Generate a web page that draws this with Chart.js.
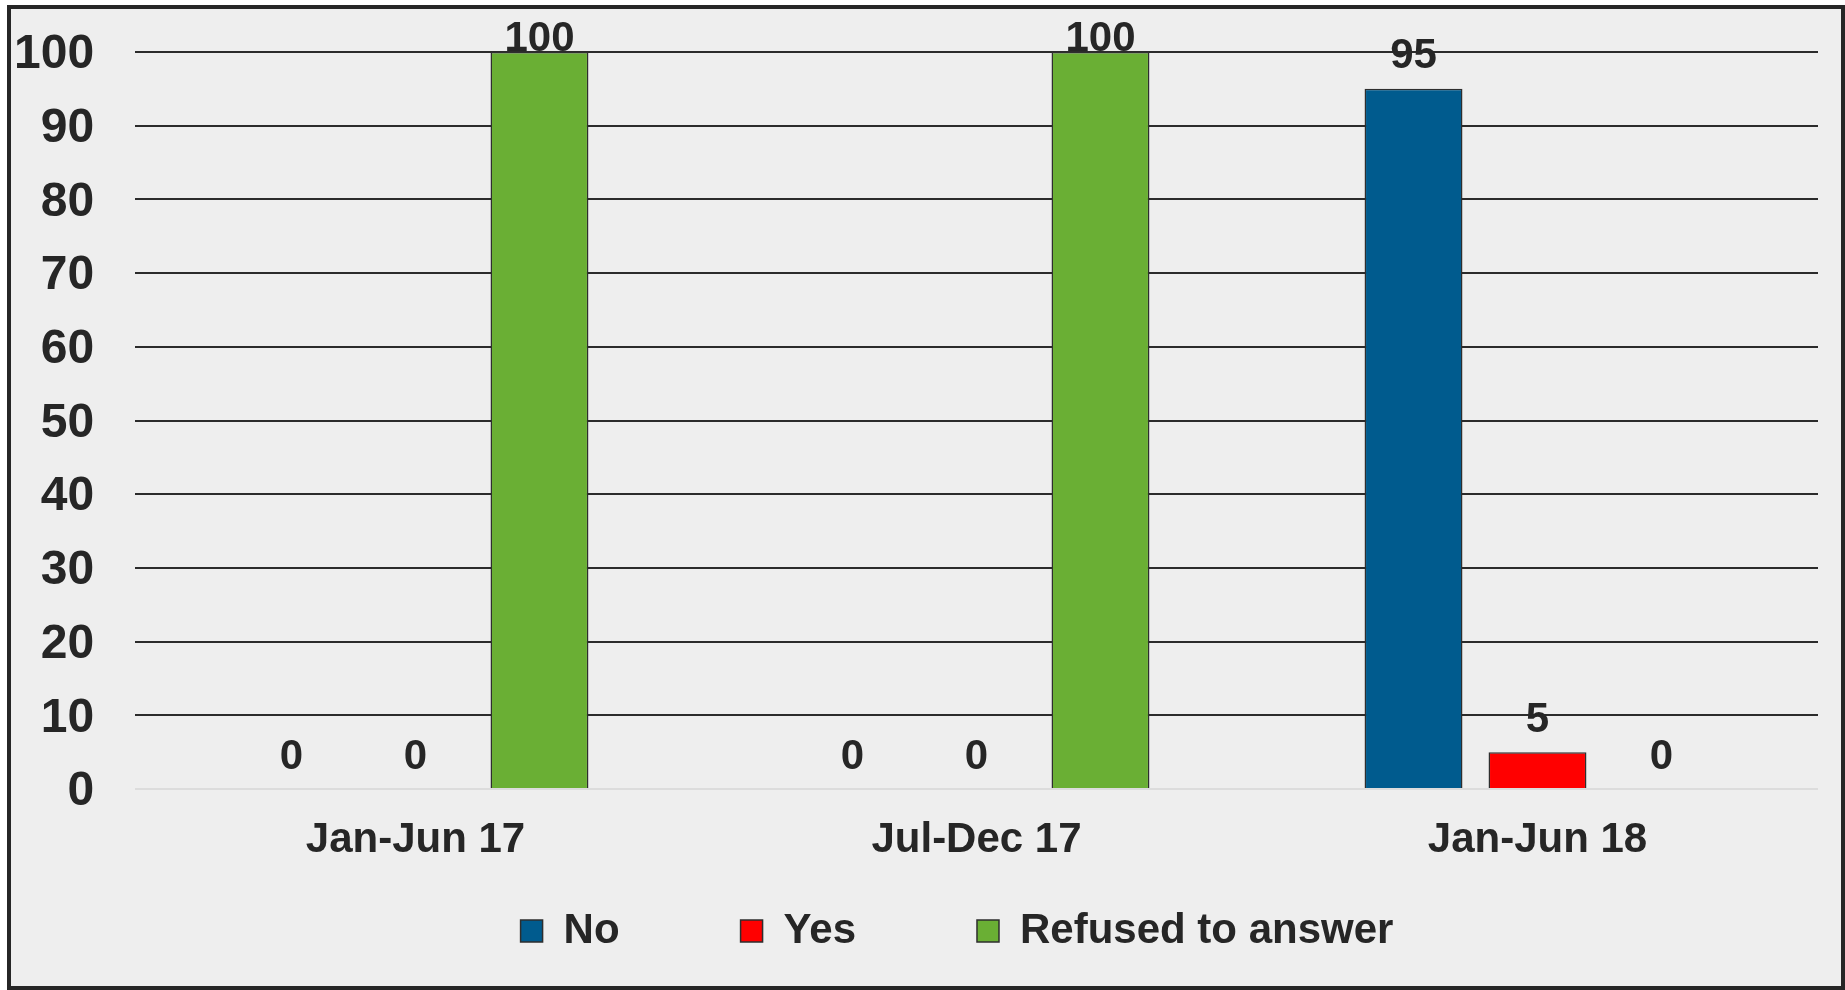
<!DOCTYPE html>
<html>
<head>
<meta charset="utf-8">
<script src="https://cdn.jsdelivr.net/npm/chart.js@4.4.1/dist/chart.umd.min.js"></script>
<style>
    html, body { margin: 0; padding: 0; background: #ffffff; }
    #frame {
        position: absolute;
        left: 7px;
        top: 5px;
        width: 1838px;
        height: 985px;
        box-sizing: border-box;
        border: 4px solid #262626;
        background: #eeeeee;
    }
    #wrap { position: relative; width: 1830px; height: 977px; }
</style>
</head>
<body>
<div id="frame"><div id="wrap"><canvas id="surveyChart"></canvas></div></div>
<script>
const periods = ['Jan-Jun 17', 'Jul-Dec 17', 'Jan-Jun 18'];
const noValues = [0, 0, 95];
const yesValues = [0, 0, 5];
const refusedValues = [100, 100, 0];
const yTicks = [0, 10, 20, 30, 40, 50, 60, 70, 80, 90, 100];

const textColor = '#262626';
const fontFamily = "'Liberation Sans', Arial, sans-serif";

// value labels above each bar, pulled down when they would leave the plot
const barLabels = {
    id: 'barLabels',
    afterDatasetsDraw(chart) {
        const ctx = chart.ctx;
        const top = chart.chartArea.top;
        ctx.save();
        ctx.font = 'bold 42px ' + fontFamily;
        ctx.fillStyle = textColor;
        ctx.textAlign = 'center';
        ctx.textBaseline = 'middle';
        chart.data.datasets.forEach((ds, i) => {
            chart.getDatasetMeta(i).data.forEach((bar, j) => {
                const y = Math.max(bar.y - 32, top - 13);
                ctx.fillText(String(ds.data[j]), bar.x, y);
            });
        });
        ctx.restore();
    }
};

const ctx = document.getElementById('surveyChart').getContext('2d');
new Chart(ctx, {
    type: 'bar',
    data: {
        labels: periods,
        datasets: [
            {
                label: 'No',
                data: noValues,
                backgroundColor: '#005b8e',
                borderColor: '#2e2e2e',
                borderWidth: 1.5
            },
            {
                label: 'Yes',
                data: yesValues,
                backgroundColor: '#ff0000',
                borderColor: '#2e2e2e',
                borderWidth: 1.5
            },
            {
                label: 'Refused to answer',
                data: refusedValues,
                backgroundColor: '#6aaf34',
                borderColor: '#2e2e2e',
                borderWidth: 1.5
            }
        ]
    },
    options: {
        responsive: true,
        maintainAspectRatio: false,
        animation: false,
        layout: {
            padding: { top: 43, left: 85, right: 23, bottom: 24 }
        },
        datasets: {
            bar: {
                categoryPercentage: 0.663,
                barPercentage: 0.79
            }
        },
        plugins: {
            tooltip: { enabled: false },
            legend: {
                position: 'bottom',
                labels: {
                    color: textColor,
                    boxWidth: 22,
                    boxHeight: 22,
                    padding: 121,
                    font: { family: fontFamily, size: 42, weight: 'bold' }
                }
            }
        },
        scales: {
            x: {
                grid: { display: false },
                border: { display: false },
                ticks: {
                    color: textColor,
                    mirror: true,
                    padding: -77,
                    font: { family: fontFamily, size: 42, weight: 'bold' }
                },
                afterFit(scale) { scale.height = 0; }
            },
            y: {
                min: 0,
                max: 100,
                border: { display: false },
                grid: {
                    drawTicks: false,
                    lineWidth: 2,
                    color: c => (c.tick && c.tick.value === 0) ? '#dcdcdc' : '#2b2b2b'
                },
                afterBuildTicks(scale) {
                    scale.ticks = yTicks.map(v => ({ value: v }));
                },
                ticks: {
                    color: textColor,
                    mirror: true,
                    crossAlign: 'far',
                    padding: -121,
                    labelOffset: 3,
                    font: { family: fontFamily, size: 48, weight: 'bold' }
                },
                afterFit(scale) { scale.width = 39; }
            }
        }
    },
    plugins: [barLabels]
});
</script>
</body>
</html>
